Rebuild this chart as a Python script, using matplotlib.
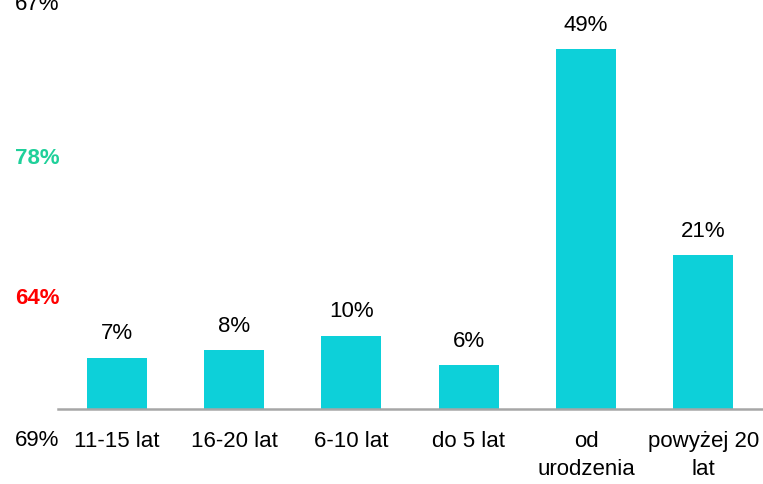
import matplotlib.pyplot as plt

plt.rcParams['font.family'] = ['Liberation Sans', 'DejaVu Sans']

categories = ['11-15 lat', '16-20 lat', '6-10 lat', 'do 5 lat', 'od\nurodzenia', 'powyżej 20\nlat']
values = [7, 8, 10, 6, 49, 21]

# side notes on the left margin: text, y in figure px from top, colour, weight
side_texts = ['67%', '78%', '64%', '69%']
side_y = [5, 158, 299, 441]
side_colors = ['black', '#1fd09a', '#ff0000', 'black']
side_weights = ['normal', 'bold', 'bold', 'normal']

FS = 16
W, H = 763, 484
fig = plt.figure(figsize=(W / 100, H / 100), dpi=100)
ax = fig.add_axes([58 / W, (H - 409) / H, (762 - 58) / W, 409 / H])

x = range(len(categories))
bars = ax.bar(x, values, width=0.51, color='#0dd0d9')
for b, v in zip(bars, values):
    ax.annotate(f'{v}%', (b.get_x() + b.get_width() / 2, v),
                xytext=(0, 17), textcoords='offset points',
                ha='center', va='center', fontsize=FS)

ax.set_xlim(-0.5, len(categories) - 0.5)
ax.set_ylim(0, 409 / 7.35)
ax.set_xticks(list(x))
ax.set_xticklabels(categories, fontsize=FS, linespacing=1.45, va='top')
ax.tick_params(axis='x', length=0, pad=16)
ax.set_yticks([])
for s in ['top', 'right', 'left']:
    ax.spines[s].set_visible(False)
ax.spines['bottom'].set_color('#a6a6a6')
ax.spines['bottom'].set_linewidth(1.8)

for t, y, c, w in zip(side_texts, side_y, side_colors, side_weights):
    fig.text(37 / W, 1 - y / H, t, color=c, fontweight=w, fontsize=FS,
             ha='center', va='center')

fig.savefig('out.png', dpi=100)
